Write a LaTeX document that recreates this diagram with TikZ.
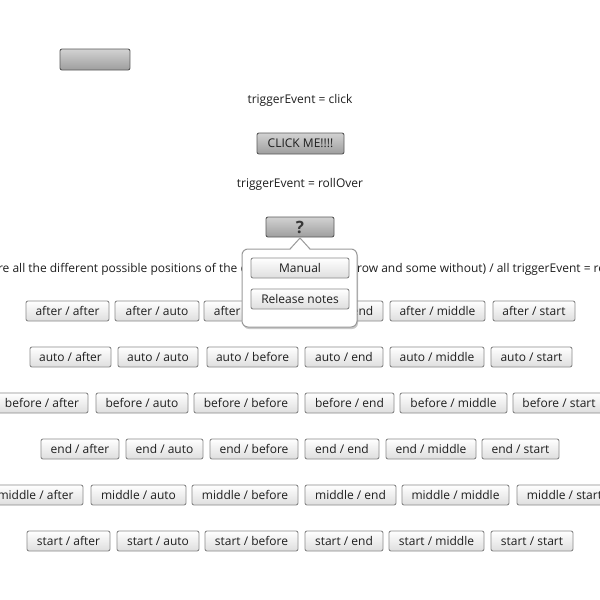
\documentclass[tikz,border=0pt]{standalone}
\usepackage{fontspec}
\setmainfont{Open Sans}
\usetikzlibrary{shadows}
\definecolor{txt}{HTML}{1E1E1E}
\definecolor{btnborder}{HTML}{8A8A8A}
\definecolor{btnbot}{HTML}{DEDEDE}
\definecolor{gtop}{HTML}{D2D2D2}
\definecolor{gmid}{HTML}{B4B4B4}
\definecolor{gbot}{HTML}{9E9E9E}
\definecolor{gbord}{HTML}{5A5A5A}
\definecolor{popborder}{HTML}{9A9A9A}
\begin{document}
\begin{tikzpicture}[x=1pt,y=-1pt,
  every node/.style={font=\fontsize{12}{14}\selectfont, text=txt},
  btn/.style={draw=btnborder, line width=0.9pt, rounded corners=2pt, top color=white, bottom color=btnbot, inner sep=0pt, minimum height=20pt},
  gbtn/.style={draw=gbord, line width=0.9pt, rounded corners=2pt, top color=gtop, middle color=gmid, bottom color=gbot, inner sep=0pt, minimum height=21pt},
  lbl/.style={inner sep=0pt},
  popup/.style={draw=popborder, line width=1pt, rounded corners=6pt, fill=white, inner sep=0pt,
    drop shadow={shadow xshift=1pt, shadow yshift=-2pt, opacity=0.35, fill=black!60}}]
\useasboundingbox (0,0) rectangle (600,600);
\clip (0,0) rectangle (600,600);
\fill[white] (0,0) rectangle (600,600);

% top area
\node[gbtn, minimum width=70pt] (empty) at (95,59.5) {};
\node[lbl] (t1) at (300,100.5) {triggerEvent = click};
\node[gbtn, minimum width=87pt] (click) at (300.5,143.5) {CLICK ME!!!!};
\node[lbl] (t2) at (300,184.5) {triggerEvent = rollOver};
\node[gbtn, minimum width=68pt, minimum height=20pt, font=\bfseries\fontsize{17}{18}\selectfont, text=black!78] (help) at (300,227) {?};
\node[lbl] (long) at (300,269.5) {Here are all the different possible positions of the callout (some with arrow and some without) / all triggerEvent = rollOver};

% row after
\node[btn, minimum width=83pt] (aa) at (67.5,311) {after / after};
\node[btn, minimum width=84pt] (au) at (157,311) {after / auto};
\node[btn, minimum width=94pt] (ab) at (251,311) {after / before};
\node[btn, minimum width=78pt] (ae) at (344,311) {after / end};
\node[btn, minimum width=95pt] (am) at (437.5,311) {after / middle};
\node[btn, minimum width=82pt] (as) at (534,311) {after / start};
% row auto
\node[btn, minimum width=81pt] (ua) at (70.5,357) {auto / after};
\node[btn, minimum width=80pt] (uu) at (158,357) {auto / auto};
\node[btn, minimum width=91pt] (ub) at (252.5,357) {auto / before};
\node[btn, minimum width=78pt] (ue) at (344,357) {auto / end};
\node[btn, minimum width=94pt] (um) at (437,357) {auto / middle};
\node[btn, minimum width=81pt] (us) at (531.5,357) {auto / start};
% row before
\node[btn, minimum width=92pt] (ba) at (42,403) {before / after};
\node[btn, minimum width=92pt] (bu) at (142,403) {before / auto};
\node[btn, minimum width=104pt] (bb) at (246,403) {before / before};
\node[btn, minimum width=89pt] (be) at (349.5,403) {before / end};
\node[btn, minimum width=107pt] (bm) at (453.5,403) {before / middle};
\node[btn, minimum width=92pt] (bs) at (559,403) {before / start};
% row end
\node[btn, minimum width=78pt] (ea) at (80,449) {end / after};
\node[btn, minimum width=77pt] (eu) at (164.5,449) {end / auto};
\node[btn, minimum width=88pt] (eb) at (254,449) {end / before};
\node[btn, minimum width=74pt] (ee) at (342,449) {end / end};
\node[btn, minimum width=90pt] (em) at (431,449) {end / middle};
\node[btn, minimum width=77pt] (es) at (520.5,449) {end / start};
% row middle
\node[btn, minimum width=95pt] (ma) at (35.5,495) {middle / after};
\node[btn, minimum width=95pt] (mu) at (138.5,495) {middle / auto};
\node[btn, minimum width=106pt] (mb) at (245,495) {middle / before};
\node[btn, minimum width=91pt] (me) at (350.5,495) {middle / end};
\node[btn, minimum width=107pt] (mm) at (455.5,495) {middle / middle};
\node[btn, minimum width=95pt] (ms) at (564.5,495) {middle / start};
% row start
\node[btn, minimum width=83pt] (sa) at (68.5,541) {start / after};
\node[btn, minimum width=82pt] (su) at (158,541) {start / auto};
\node[btn, minimum width=93pt] (sb) at (251.5,541) {start / before};
\node[btn, minimum width=78pt] (se) at (344,541) {start / end};
\node[btn, minimum width=95pt] (sm) at (436.5,541) {start / middle};
\node[btn, minimum width=82pt] (ss) at (532,541) {start / start};

% popup
\node[popup, minimum width=115pt, minimum height=78pt] (pop) at (299.5,288) {};
\coordinate (tip) at (300,238);
\fill[white] (290,250.2) -- (tip) -- (310,250.2) -- cycle;
\draw[popborder, line width=1pt, line join=round] (290,249) -- (tip) -- (310,249);
\node[btn, minimum width=98pt] (manual) at (300,268) {Manual};
\node[btn, minimum width=98pt] (notes) at (300,299) {Release notes};
\end{tikzpicture}
\end{document}
